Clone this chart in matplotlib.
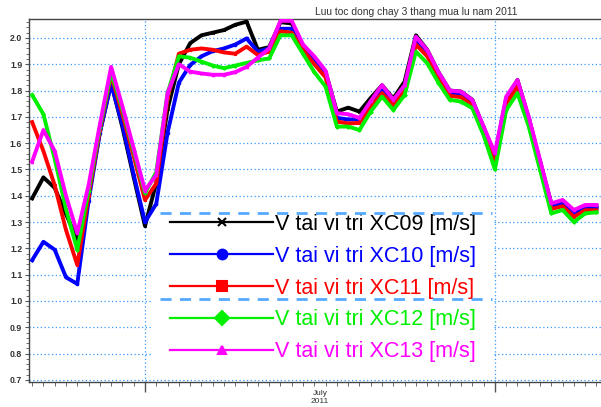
import numpy as np
import pandas as pd
import matplotlib
matplotlib.use("Agg")
import matplotlib.pyplot as plt
import matplotlib.dates as mdates
from matplotlib.lines import Line2D
from matplotlib.patches import Rectangle
from matplotlib.ticker import MultipleLocator, FormatStrFormatter

plt.rcParams['font.family'] = ['Liberation Sans', 'DejaVu Sans']

# daily velocity at the 5 stations, 21/6 -> 10/8/2011
days = pd.date_range('2011-06-21', '2011-08-10', freq='D')

xc09 = [1.39, 1.47, 1.43, 1.33, 1.235, 1.40, 1.64, 1.83, 1.66, 1.47,
        1.285, 1.45, 1.73, 1.90, 1.98, 2.01, 2.02, 2.03, 2.05, 2.062,
        1.955, 1.965, 2.06, 2.055, 1.97, 1.92, 1.87, 1.72, 1.735, 1.72,
        1.772, 1.82, 1.77, 1.834, 2.01, 1.955, 1.87, 1.80, 1.796, 1.765,
        1.66, 1.555, 1.77, 1.84, 1.695, 1.53, 1.37, 1.38, 1.335, 1.36,
        1.36]
xc10 = [1.155, 1.225, 1.195, 1.09, 1.065, 1.38, 1.64, 1.825, 1.67, 1.48,
        1.30, 1.37, 1.64, 1.83, 1.897, 1.93, 1.95, 1.96, 1.975, 1.998,
        1.948, 1.96, 2.035, 2.035, 1.96, 1.91, 1.86, 1.696, 1.69, 1.69,
        1.75, 1.80, 1.755, 1.815, 1.99, 1.94, 1.86, 1.79, 1.785, 1.755,
        1.65, 1.535, 1.76, 1.83, 1.69, 1.525, 1.36, 1.37, 1.33, 1.355,
        1.355]
xc11 = [1.68, 1.57, 1.44, 1.27, 1.137, 1.40, 1.65, 1.86, 1.71, 1.55,
        1.384, 1.447, 1.77, 1.94, 1.955, 1.96, 1.955, 1.945, 1.94, 1.967,
        1.935, 1.948, 2.025, 2.02, 1.955, 1.90, 1.85, 1.682, 1.675, 1.677,
        1.74, 1.79, 1.745, 1.80, 1.975, 1.93, 1.85, 1.78, 1.775, 1.745,
        1.64, 1.52, 1.75, 1.815, 1.68, 1.515, 1.35, 1.36, 1.32, 1.345,
        1.345]
xc12 = [1.783, 1.71, 1.54, 1.35, 1.194, 1.42, 1.66, 1.87, 1.73, 1.57,
        1.41, 1.49, 1.79, 1.93, 1.925, 1.91, 1.895, 1.885, 1.895, 1.905,
        1.915, 1.922, 2.01, 2.01, 1.94, 1.87, 1.815, 1.663, 1.663, 1.65,
        1.72, 1.777, 1.726, 1.783, 1.948, 1.904, 1.83, 1.765, 1.758, 1.733,
        1.63, 1.50, 1.726, 1.79, 1.663, 1.498, 1.333, 1.346, 1.30, 1.333,
        1.337]
xc13 = [1.53, 1.65, 1.57, 1.40, 1.258, 1.44, 1.67, 1.89, 1.74, 1.58,
        1.42, 1.48, 1.79, 1.90, 1.872, 1.865, 1.86, 1.86, 1.87, 1.89,
        1.925, 1.96, 2.065, 2.065, 1.975, 1.93, 1.875, 1.714, 1.71, 1.696,
        1.76, 1.821, 1.765, 1.82, 2.005, 1.954, 1.87, 1.80, 1.796, 1.764,
        1.663, 1.562, 1.777, 1.84, 1.70, 1.536, 1.371, 1.384, 1.346, 1.365,
        1.365]

names = ['XC09', 'XC10', 'XC11', 'XC12', 'XC13']
series = [xc09, xc10, xc11, xc12, xc13]
colors = ['#000000', '#0000ff', '#ff0000', '#00f000', '#ff00ff']
markers = ['x', 'o', 's', 'D', '^']
leg_ms = [6, 7, 7, 7, 6]

fig = plt.figure(figsize=(6.01, 4.07), dpi=100)
ax = fig.add_axes([29.3 / 601, 1 - 382 / 407, 571.7 / 601, 363 / 407])

for v, c, m in zip(series, colors, markers):
    ax.plot(days, v, color=c, lw=2.8, marker=m, ms=1.8, mew=0.8, zorder=3)

t0 = pd.Timestamp('2011-07-01')
ax.set_xlim(mdates.date2num(t0) - 10.25, mdates.date2num(t0) + 40.4)
ax.set_ylim(0.692, 2.072)

ax.yaxis.set_major_locator(MultipleLocator(0.1))
ax.yaxis.set_minor_locator(MultipleLocator(0.02))
ax.yaxis.set_major_formatter(FormatStrFormatter('%.1f'))
ax.xaxis.set_major_locator(mdates.MonthLocator())
ax.xaxis.set_minor_locator(mdates.DayLocator())
ax.xaxis.set_major_formatter(plt.NullFormatter())

ax.tick_params(axis='y', which='major', length=3, width=0.8, color='#555555',
               labelsize=6.3, labelcolor='#333333', pad=2)
ax.tick_params(axis='y', which='minor', length=2, width=0.6, color='#555555')
ax.tick_params(axis='x', which='major', length=7, width=1, color='#555555')
ax.tick_params(axis='x', which='minor', length=3, width=0.6, color='#555555')
for lab in ax.get_yticklabels():
    lab.set_fontweight('bold')

ax.set_axisbelow(True)
ax.grid(True, which='major', color='#3399ff', lw=0.9, linestyle=(0, (1, 2)))

for s in ['top', 'left', 'bottom']:
    ax.spines[s].set_color('#444444')
    ax.spines[s].set_linewidth(1)
ax.spines['right'].set_visible(False)

mid_july = mdates.date2num(pd.Timestamp('2011-07-16 12:00'))
ax.text(mid_july, -0.022, 'July\n2011', transform=ax.get_xaxis_transform(),
        ha='center', va='top', fontsize=6, color='#333333', linespacing=1.2)

fig.text(416 / 601, 1 - 12 / 407, 'Luu toc dong chay 3 thang mua lu nam 2011',
         ha='center', va='center', fontsize=7.4, color='#333333')

# white box behind the legend, with the two dashed lines across it
ax.add_patch(Rectangle((0.2164, 0.0386), 0.593, 0.4545, transform=ax.transAxes,
                       facecolor='white', edgecolor='none', zorder=1))
for yy in [0.4656, 0.2287]:
    ax.plot([0.2286, 0.809], [yy, yy], transform=ax.transAxes, color='#55aaff',
            lw=2, linestyle=(0, (4, 3)), zorder=6)

handles = [Line2D([], [], color=c, lw=1.6, marker=m, ms=s, mew=1.5)
           for c, m, s in zip(colors, markers, leg_ms)]
labels = ['V tai vi tri %s [m/s]' % n for n in names]
ax.legend(handles, labels, loc='upper left', bbox_to_anchor=(0.2461, 0.4628),
          frameon=False, borderpad=0, borderaxespad=0, handlelength=4.8,
          handletextpad=0.1, labelspacing=0.5, labelcolor='linecolor',
          prop={'family': 'Liberation Sans', 'size': 15.5})

fig.savefig('out.png', dpi=100)
